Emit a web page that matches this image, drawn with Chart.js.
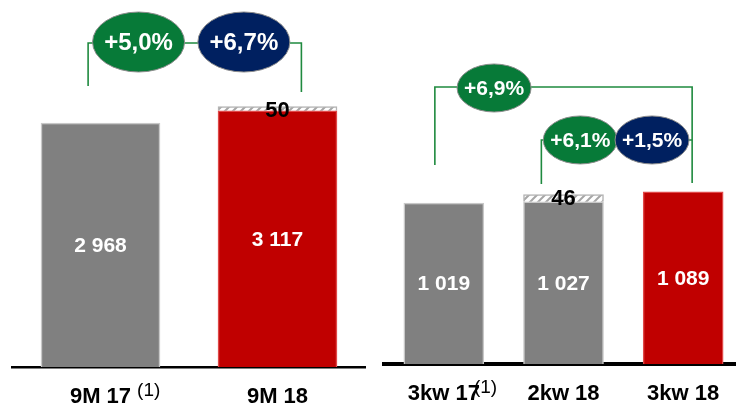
<!DOCTYPE html>
<html>
<head>
<meta charset="utf-8">
<script src="https://cdn.jsdelivr.net/npm/chart.js@4.4.1/dist/chart.umd.min.js"></script>
<style>
  html, body { margin: 0; padding: 0; background: #fff; width: 736px; height: 405px; overflow: hidden; }
  .panel { position: absolute; top: 0; }
</style>
</head>
<body>
<div class="panel" style="left:0"><canvas id="ytdChart" width="366" height="405"></canvas></div>
<div class="panel" style="left:372px"><canvas id="qChart" width="371" height="405"></canvas></div>
<script>
// year-to-date panel
const ytdLabels = ['9M 17', '9M 18'];
const ytdBase = [2968, 3117];
const ytdExtra = [0, 50];
const ytdGrowth = ['+5,0%', '+6,7%'];

// quarter panel
const qLabels = ['3kw 17', '2kw 18', '3kw 18'];
const qBase = [1019, 1027, 1089];
const qExtra = [0, 46, 0];
const qGrowth = ['+6,9%', '+6,1%', '+1,5%'];

// which category carries the (1) footnote mark
const footnoteIndex = 0;

const GRAY = '#808080';
const RED = '#c00000';
const GREEN = '#077a38';
const NAVY = '#002060';
const FONT = '"Liberation Sans", Arial, sans-serif';

// striped fill for the small extra piece on top of a bar
function hatchPattern() {
  const c = document.createElement('canvas');
  c.width = 8; c.height = 8;
  const g = c.getContext('2d');
  g.fillStyle = '#ffffff';
  g.fillRect(0, 0, 8, 8);
  g.strokeStyle = '#a6a6a6';
  g.lineWidth = 2;
  g.beginPath();
  g.moveTo(0, 8); g.lineTo(8, 0);
  g.moveTo(-2, 2); g.lineTo(2, -2);
  g.moveTo(6, 10); g.lineTo(10, 6);
  g.stroke();
  return g.createPattern(c, 'repeat');
}

function fmt(v) {
  return String(v).replace(/\B(?=(\d{3})+(?!\d))/g, ' ');
}

// value labels inside bars + number above the hatched piece
const valueLabels = {
  id: 'valueLabels',
  afterDatasetsDraw(chart) {
    const ctx = chart.ctx;
    ctx.save();
    ctx.textAlign = 'center';
    ctx.textBaseline = 'middle';
    chart.getDatasetMeta(0).data.forEach((bar, i) => {
      ctx.font = 'bold 21px ' + FONT;
      ctx.fillStyle = '#ffffff';
      ctx.fillText(fmt(chart.data.datasets[0].data[i]), bar.x, (bar.y + bar.base) / 2 + 1);
    });
    chart.getDatasetMeta(1).data.forEach((bar, i) => {
      const v = chart.data.datasets[1].data[i];
      if (!v) return;
      ctx.font = 'bold 22px ' + FONT;
      ctx.fillStyle = '#000000';
      ctx.fillText(String(v), bar.x, bar.y + 4);
    });
    ctx.restore();
  }
};

// growth brackets and the oval badges
const growthBadges = {
  id: 'growthBadges',
  afterDraw(chart, args, opts) {
    const ctx = chart.ctx;
    const xs = chart.scales.x, ys = chart.scales.y;
    const px = v => xs.getPixelForValue(v);
    const py = v => ys.getPixelForValue(v);
    ctx.save();
    ctx.strokeStyle = '#1f8a3f';
    ctx.lineWidth = 1.6;
    (opts.lines || []).forEach(pts => {
      ctx.beginPath();
      pts.forEach((p, k) => k ? ctx.lineTo(px(p[0]), py(p[1])) : ctx.moveTo(px(p[0]), py(p[1])));
      ctx.stroke();
    });
    (opts.badges || []).forEach(b => {
      const x = px(b.x), y = py(b.y);
      ctx.beginPath();
      ctx.ellipse(x, y, b.rx, b.ry, 0, 0, Math.PI * 2);
      ctx.fillStyle = b.fill;
      ctx.fill();
      ctx.lineWidth = 1;
      ctx.strokeStyle = '#8c8c8c';
      ctx.stroke();
      ctx.fillStyle = '#ffffff';
      ctx.font = 'bold ' + b.size + 'px ' + FONT;
      ctx.textAlign = 'center';
      ctx.textBaseline = 'middle';
      ctx.fillText(b.text, x, y + 1);
    });
    // superscript footnote next to a tick label
    if (opts.footnote) {
      const f = opts.footnote;
      ctx.font = 'bold 22px ' + FONT;
      const w = ctx.measureText(chart.data.labels[footnoteIndex]).width;
      ctx.font = '19px ' + FONT;
      ctx.fillStyle = '#000000';
      ctx.textAlign = 'left';
      ctx.textBaseline = 'middle';
      ctx.fillText('(1)', px(footnoteIndex) + w / 2 + f.dx, chart.chartArea.bottom + 24);
    }
    ctx.restore();
  }
};

function makeChart(id, labels, base, extra, baseColors, yMax, barW, xHeight, axisW, badgeOpts) {
  const hatch = hatchPattern();
  return new Chart(document.getElementById(id), {
    type: 'bar',
    data: {
      labels: labels,
      datasets: [{
        data: base,
        backgroundColor: baseColors,
        borderColor: baseColors.map(c => c === RED ? '#e04848' : '#c8c8c8'),
        borderWidth: 1.5,
        barThickness: barW,
        stack: 's'
      }, {
        data: extra,
        backgroundColor: hatch,
        borderColor: '#b4b4b4',
        borderWidth: 1.5,
        barThickness: barW,
        stack: 's'
      }]
    },
    options: {
      responsive: false,
      animation: false,
      layout: { padding: { left: 12, right: 0, top: 0, bottom: 0 } },
      plugins: {
        legend: { display: false },
        tooltip: { enabled: false },
        growthBadges: badgeOpts
      },
      scales: {
        x: {
          stacked: true,
          grid: { display: false, drawTicks: false },
          border: { display: true, color: '#000000', width: axisW },
          ticks: { color: '#000000', font: { family: FONT, size: 22, weight: 'bold' }, padding: 17 },
          afterFit: s => { s.height = xHeight; }
        },
        y: {
          stacked: true,
          display: false,
          min: 0,
          max: yMax
        }
      }
    },
    plugins: [valueLabels, growthBadges]
  });
}

makeChart('ytdChart', ytdLabels, ytdBase, ytdExtra, [GRAY, RED], 4464, 119, 38, 2.5, {
  lines: [[[-0.07, 3418], [-0.07, 3941], [1.135, 3941], [1.135, 3345]]],
  badges: [
    { x: 0.215, y: 3953, rx: 46, ry: 30, fill: GREEN, text: ytdGrowth[0], size: 24 },
    { x: 0.81, y: 3953, rx: 46, ry: 30, fill: NAVY, text: ytdGrowth[1], size: 24 }
  ],
  footnote: { dx: 6 }
});

makeChart('qChart', qLabels, qBase, qExtra, [GRAY, GRAY, RED], 2304, 80, 41, 4, {
  lines: [
    [[-0.075, 1259], [-0.075, 1753], [2.075, 1753], [2.075, 1146]],
    [[0.815, 1139], [0.815, 1418], [2.075, 1418]]
  ],
  badges: [
    { x: 0.42, y: 1747, rx: 37, ry: 24, fill: GREEN, text: qGrowth[0], size: 21 },
    { x: 1.14, y: 1418, rx: 37, ry: 24, fill: GREEN, text: qGrowth[1], size: 21 },
    { x: 1.74, y: 1418, rx: 37, ry: 24, fill: NAVY, text: qGrowth[2], size: 21 }
  ],
  footnote: { dx: -6 }
});
</script>
</body>
</html>
